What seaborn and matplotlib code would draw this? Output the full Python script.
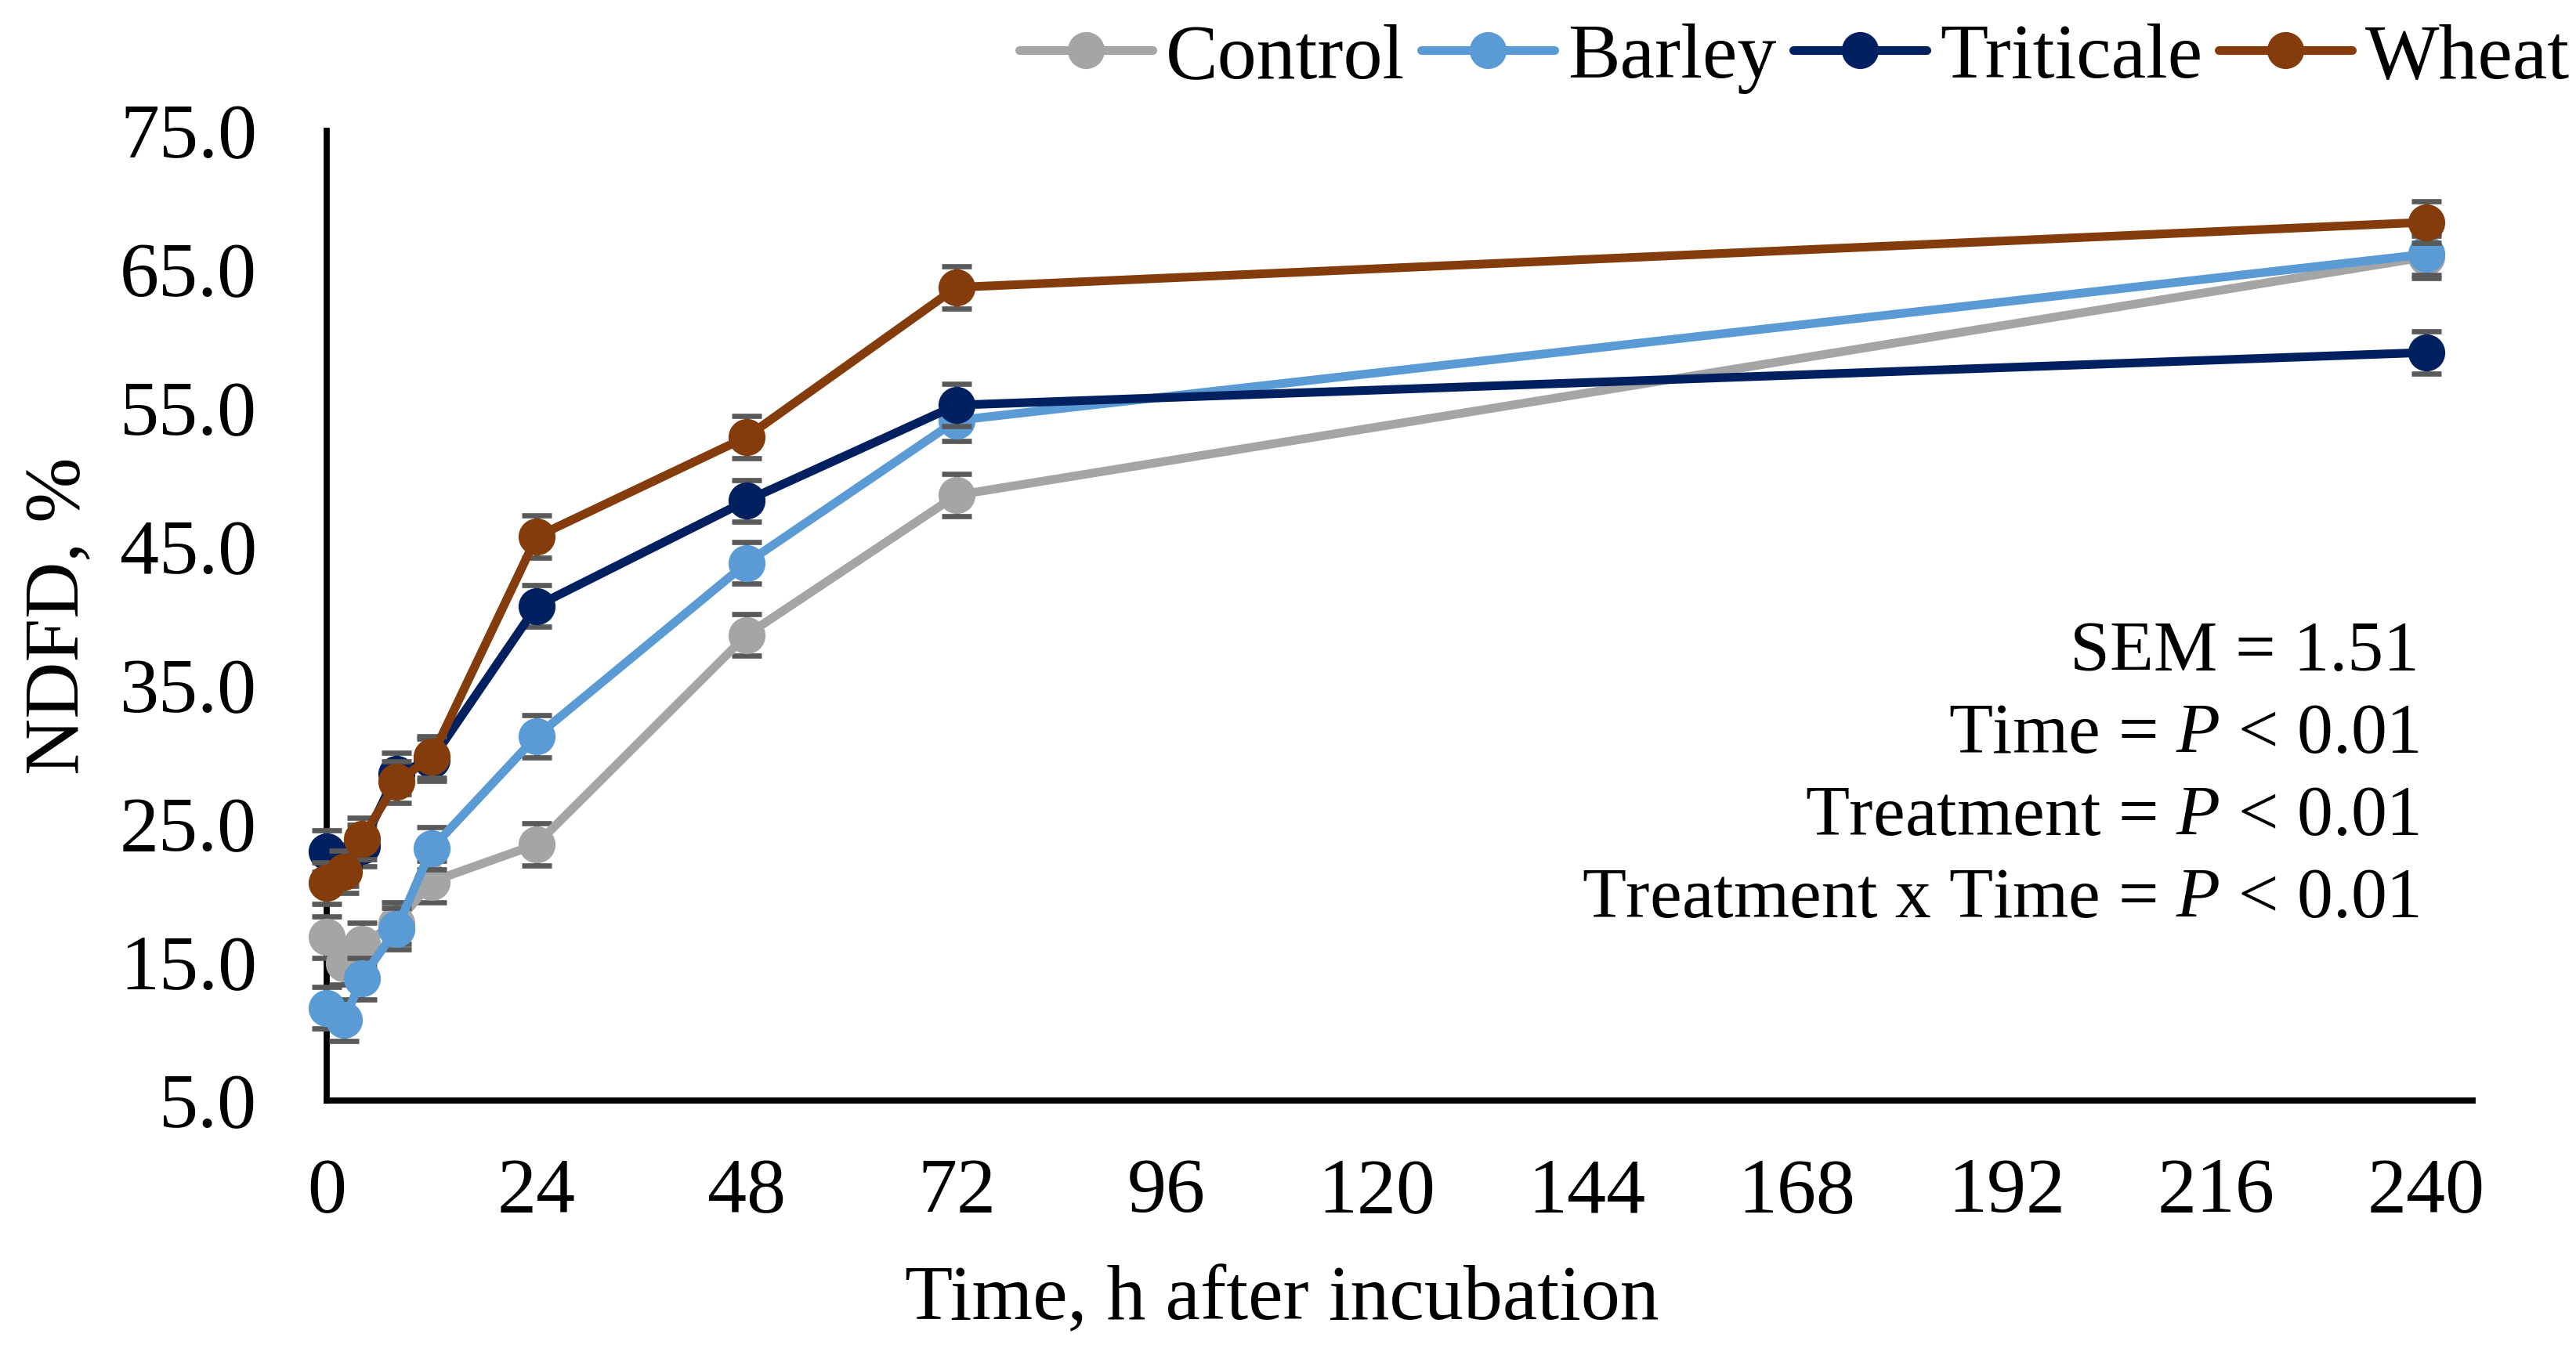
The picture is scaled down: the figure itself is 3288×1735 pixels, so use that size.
import matplotlib
matplotlib.use('Agg')
import matplotlib.pyplot as plt
import numpy as np
import pandas as pd
import seaborn as sns

sns.set_style('white')
plt.rcParams['font.family'] = ['Liberation Serif', 'DejaVu Serif']
plt.rcParams['mathtext.fontset'] = 'custom'
plt.rcParams['mathtext.rm'] = 'Liberation Serif'
plt.rcParams['mathtext.it'] = 'Liberation Serif:italic'
plt.rcParams['text.color'] = 'black'
plt.rcParams['axes.labelcolor'] = 'black'
plt.rcParams['xtick.color'] = 'black'
plt.rcParams['ytick.color'] = 'black'

# data
hours = [0, 2, 4, 8, 12, 24, 48, 72, 240]
control = [16.8, 14.9, 16.3, 17.8, 20.8, 23.5, 38.6, 48.7, 65.9]
barley = [11.7, 10.8, 13.8, 17.4, 23.2, 31.3, 43.8, 54.1, 66.1]
triticale = [23.0, 22.0, 23.4, 28.6, 29.6, 40.7, 48.3, 55.2, 59.0]
wheat = [20.7, 21.5, 23.9, 28.0, 29.8, 45.7, 52.9, 63.7, 68.4]
sem = 1.51

names = ['Control', 'Barley', 'Triticale', 'Wheat']
colors = ['#A5A5A5', '#5B9BD5', '#002060', '#843C0C']

df = pd.DataFrame({
    'Time': hours * 4,
    'NDFD': control + barley + triticale + wheat,
    'Treatment': np.repeat(names, len(hours)),
})

fig = plt.figure(figsize=(16.44, 8.675), dpi=200)
ax = fig.add_axes([417/3288, 1 - 1405/1735, 2739/3288, 1238/1735])

for i, (name, col) in enumerate(zip(names, colors)):
    sub = df[df['Treatment'] == name]
    ax.errorbar(sub['Time'], sub['NDFD'], yerr=sem, fmt='none', ecolor='#595959',
                elinewidth=2.4, capsize=6.8, capthick=2.4, zorder=3 + 2*i, clip_on=False)
    sns.lineplot(data=sub, x='Time', y='NDFD', color=col, marker='o', markersize=17,
                 markeredgewidth=0, lw=4, label=name, ax=ax, zorder=4 + 2*i,
                 clip_on=False)

for ln in ax.lines:
    ln.set_linewidth(4)

ax.set_xlim(0, 245.3)
ax.set_ylim(5, 75)
ax.set_xticks(range(0, 241, 24))
ax.set_yticks(np.arange(5, 76, 10))
ax.set_yticklabels([f'{v:.1f}' for v in np.arange(5, 76, 10)])

for s in ['top', 'right']:
    ax.spines[s].set_visible(False)
for s in ['left', 'bottom']:
    ax.spines[s].set_color('black')
    ax.spines[s].set_linewidth(2.8)

ax.tick_params(axis='x', direction='inout', length=21.6, width=1.1, color='black',
               labelsize=36, pad=15.5)
ax.tick_params(axis='y', length=0, labelsize=36, pad=32)

ax.set_xlabel('Time, h after incubation', fontsize=36)
ax.xaxis.set_label_coords((1636 - 417) / 2739, -0.17)
ax.set_ylabel('NDFD, %', fontsize=36)
ax.yaxis.set_label_coords(-0.108, 0.5)

leg = ax.legend(loc='center right', bbox_to_anchor=(3280/3288, 1 - 75/1735),
                bbox_transform=fig.transFigure, ncol=4, frameon=False, fontsize=36,
                handlelength=1.7, handletextpad=0.17, columnspacing=0.21, borderpad=0,
                borderaxespad=0)

notes = ['SEM = 1.51', 'Time = $P$ < 0.01', 'Treatment = $P$ < 0.01',
         'Treatment x Time = $P$ < 0.01']
for k, txt in enumerate(notes):
    fig.text(3088/3288, 1 - (834 + 105*k)/1735, txt, ha='right', va='center', fontsize=33)

fig.savefig('out.png', dpi=200)
